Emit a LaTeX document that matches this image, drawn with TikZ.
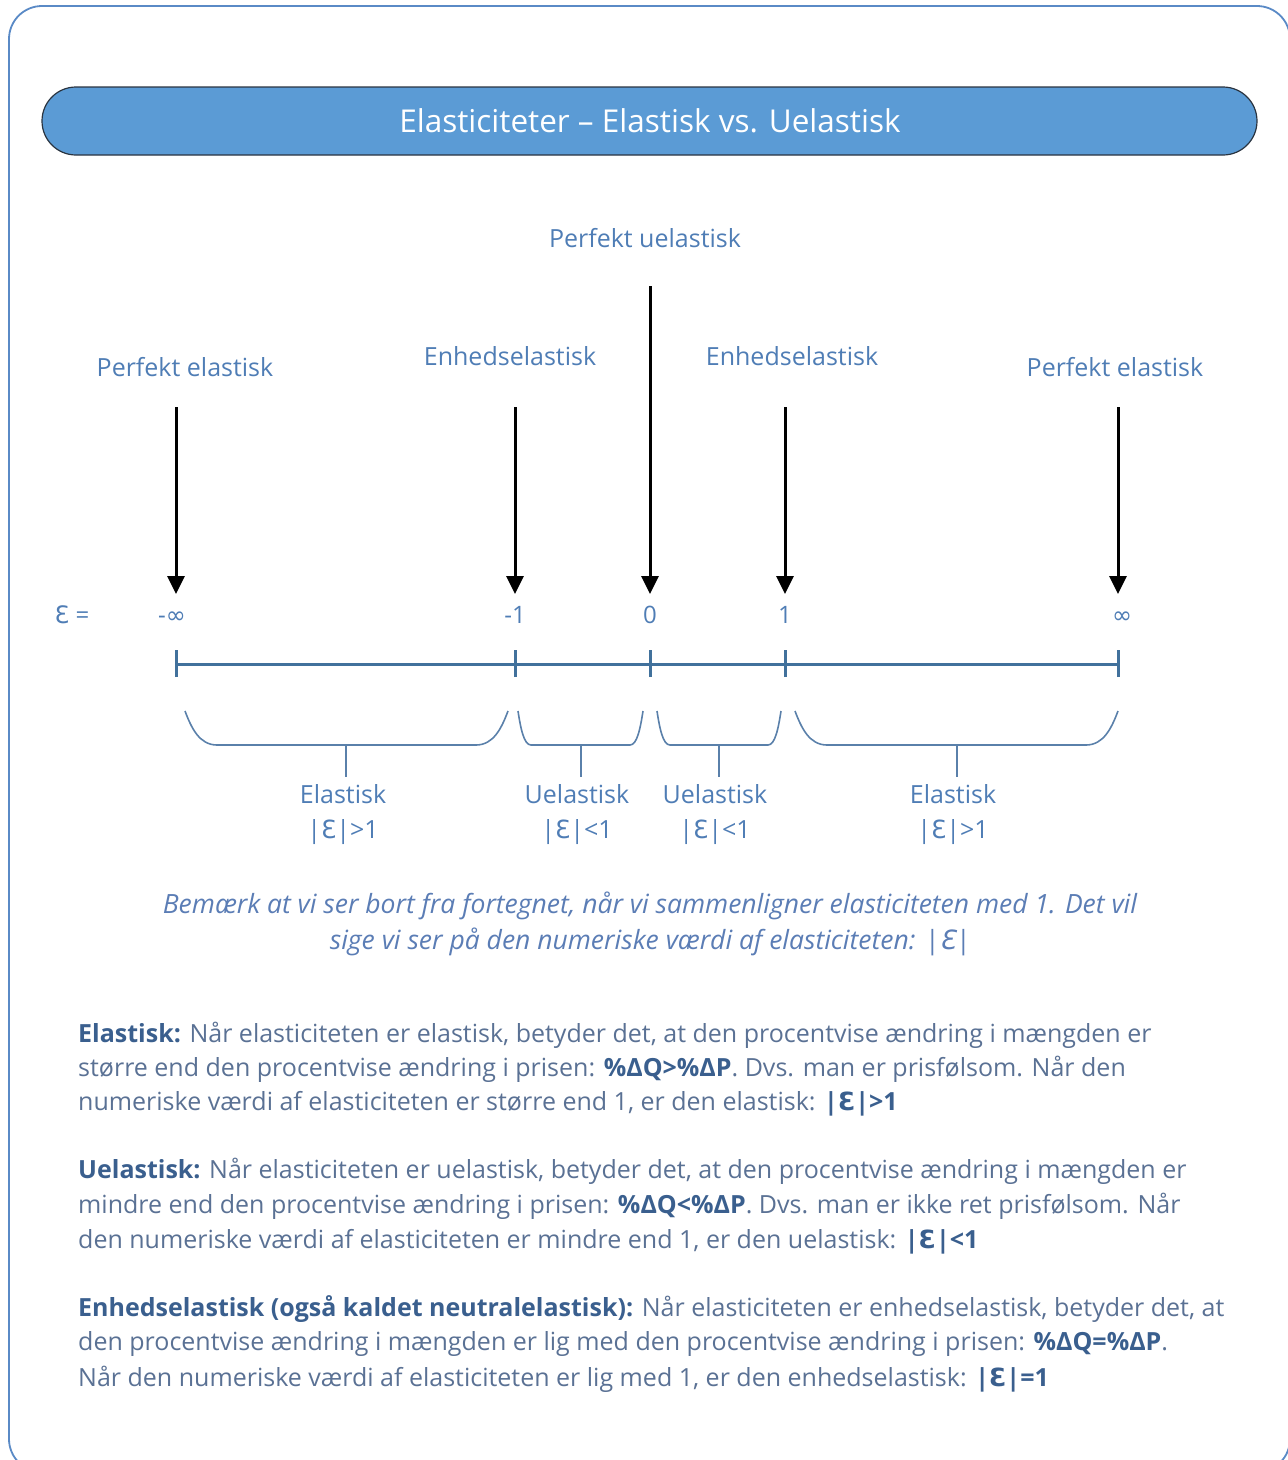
\documentclass[tikz,border=0pt]{standalone}
\usepackage{fontspec}
\setmainfont{Open Sans}
\newfontfamily\symfont{DejaVu Sans}
\usetikzlibrary{arrows.meta}
\definecolor{framec}{HTML}{5A8AC6}
\definecolor{titlefill}{HTML}{5B9BD5}
\definecolor{titledraw}{HTML}{2A3440}
\definecolor{axisc}{HTML}{41719C}
\definecolor{brackc}{HTML}{5A80AA}
\definecolor{labc}{HTML}{4F7DB5}
\definecolor{notec}{HTML}{5B7DB5}
\definecolor{bodyc}{HTML}{5A7194}
\definecolor{boldc}{HTML}{3A5F8E}
\newcommand{\Eps}{{\symfont Ɛ}}
\newcommand{\Inf}{{\symfont ∞}}
\tikzset{
  lab/.style={anchor=base, inner sep=0pt, text=labc, font=\fontsize{25}{30}\selectfont},
  val/.style={anchor=base, inner sep=0pt, text=labc, font=\fontsize{24}{28}\selectfont},
  note/.style={anchor=base, inner sep=0pt, text=notec, font=\fontsize{26.5}{30}\selectfont\itshape},
  body/.style={anchor=base west, inner sep=0pt, text=bodyc, font=\fontsize{25}{30}\selectfont},
  downarrow/.style={line width=3pt, black, -{Triangle[length=18pt,width=17pt]}},
  axisline/.style={line width=3pt, axisc},
  bracket/.style={line width=1.6pt, brackc},
}
\newcommand{\bl}[1]{{\bfseries\color{boldc}#1}}
\begin{document}
\begin{tikzpicture}[x=1pt,y=-1pt]
\useasboundingbox (0,0) rectangle (1288,1460);
\begin{scope}
\clip (0,0) rectangle (1288,1460);
\draw[framec, line width=1.8pt, rounded corners=33pt] (9,6) rectangle (1290,1472);
\end{scope}
% title
\draw[titledraw, fill=titlefill, line width=1.2pt, rounded corners=34pt] (42,87) rectangle (1257,155);
\node[inner sep=0pt, text=white, font=\fontsize{31.5}{36}\selectfont] (title) at (650,121) {Elasticiteter -- Elastisk vs. Uelastisk};
% top labels
\node[lab] (pu) at (645,247) {Perfekt uelastisk};
\node[lab] (pel) at (185,376) {Perfekt elastisk};
\node[lab] (per) at (1115,376) {Perfekt elastisk};
\node[lab] (enl) at (510,365) {Enhedselastisk};
\node[lab] (enr) at (792,365) {Enhedselastisk};
% arrow start/end
\coordinate (a1s) at (176,407); \coordinate (a1e) at (176,594);
\coordinate (a2s) at (515,407); \coordinate (a2e) at (515,594);
\coordinate (a3s) at (650,286); \coordinate (a3e) at (650,594);
\coordinate (a4s) at (785,407); \coordinate (a4e) at (785,594);
\coordinate (a5s) at (1118,407); \coordinate (a5e) at (1118,594);
\draw[downarrow] (a1s) -- (a1e);
\draw[downarrow] (a2s) -- (a2e);
\draw[downarrow] (a3s) -- (a3e);
\draw[downarrow] (a4s) -- (a4e);
\draw[downarrow] (a5s) -- (a5e);
% values
\node[val, anchor=base] (eq) at (72,623) {\Eps\ =};
\node[val] (vmi) at (172,623) {-\Inf};
\node[val] (vm1) at (515,623) {-1};
\node[val] (v0) at (650,623) {0};
\node[val] (v1) at (785,623) {1};
\node[val] (vi) at (1122,623) {\Inf};
% axis
\coordinate (t1) at (176,664); \coordinate (t2) at (515,664); \coordinate (t3) at (650,664);
\coordinate (t4) at (785,664); \coordinate (t5) at (1118,664);
\draw[axisline] (t1) -- (t5);
\foreach \t in {t1,t2,t3,t4,t5} \draw[axisline] ([yshift=-13pt]\t) -- ([yshift=14pt]\t);
% brackets
\newcommand{\brk}[4]{% x0, x1, corner width, center
  \draw[bracket] (#1,711) .. controls ({#1+0.2*#3},728) and ({#1+0.45*#3},745) .. ({#1+#3},745)
    -- ({#2-#3},745) .. controls ({#2-0.45*#3},745) and ({#2-0.2*#3},728) .. (#2,711);
  \draw[bracket] (#4,745) -- (#4,777);}
\brk{185}{508}{32}{346}
\brk{518}{643}{13}{581}
\brk{657}{781}{13}{719}
\brk{795}{1118}{32}{957}
% bracket labels
\node[lab] (b1a) at (343,803) {Elastisk};
\node[lab] (b1b) at (343,838) {|\Eps|>1};
\node[lab] (b2a) at (577,803) {Uelastisk};
\node[lab] (b2b) at (577,838) {|\Eps|<1};
\node[lab] (b3a) at (715,803) {Uelastisk};
\node[lab] (b3b) at (715,838) {|\Eps|<1};
\node[lab] (b4a) at (953,803) {Elastisk};
\node[lab] (b4b) at (953,838) {|\Eps|>1};
% note
\node[note] (n1) at (650,913) {Bemærk at vi ser bort fra fortegnet, når vi sammenligner elasticiteten med 1. Det vil};
\node[note] (n2) at (650,949) {sige vi ser på den numeriske værdi af elasticiteten: |\Eps|};
% paragraphs
\node[body] (p11) at (78,1042) {\bl{Elastisk:} Når elasticiteten er elastisk, betyder det, at den procentvise ændring i mængden er};
\node[body] (p12) at (78,1076) {større end den procentvise ændring i prisen: \bl{\%ΔQ>\%ΔP}. Dvs. man er prisfølsom. Når den};
\node[body] (p13) at (78,1110) {numeriske værdi af elasticiteten er større end 1, er den elastisk: \bl{|\Eps|>1}};
\node[body] (p21) at (78,1178) {\bl{Uelastisk:} Når elasticiteten er uelastisk, betyder det, at den procentvise ændring i mængden er};
\node[body] (p22) at (78,1213) {mindre end den procentvise ændring i prisen: \bl{\%ΔQ<\%ΔP}. Dvs. man er ikke ret prisfølsom. Når};
\node[body] (p23) at (78,1248) {den numeriske værdi af elasticiteten er mindre end 1, er den uelastisk: \bl{|\Eps|<1}};
\node[body] (p31) at (78,1316) {\bl{Enhedselastisk (også kaldet neutralelastisk):} Når elasticiteten er enhedselastisk, betyder det, at};
\node[body] (p32) at (78,1350) {den procentvise ændring i mængden er lig med den procentvise ændring i prisen: \bl{\%ΔQ=\%ΔP}.};
\node[body] (p33) at (78,1386) {Når den numeriske værdi af elasticiteten er lig med 1, er den enhedselastisk: \bl{|\Eps|=1}};
\end{tikzpicture}
\end{document}
